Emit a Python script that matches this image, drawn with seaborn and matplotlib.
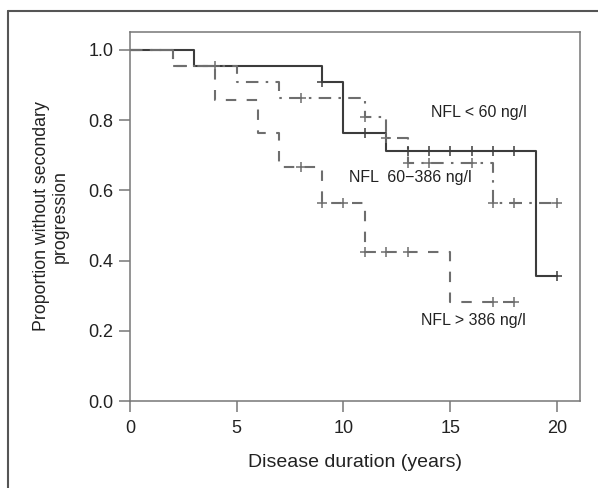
import matplotlib
matplotlib.use("Agg")
import matplotlib.pyplot as plt
import matplotlib.lines as mlines
import pandas as pd
import seaborn as sns

# Kaplan-Meier step data
low_t = [0, 3, 9, 10, 12, 19, 20]
low_s = [1.0, 0.955, 0.909, 0.764, 0.713, 0.357, 0.357]
low_ct = [9, 11, 13, 14, 15, 16, 17, 18, 20]
low_cs = [0.909, 0.764, 0.713, 0.713, 0.713, 0.713, 0.713, 0.713, 0.357]

mid_t = [0, 2, 5, 7, 11, 12, 13, 17, 20]
mid_s = [1.0, 0.955, 0.909, 0.863, 0.809, 0.749, 0.678, 0.565, 0.565]
mid_ct = [4, 8, 11, 12, 13, 14, 16, 17, 18, 20]
mid_cs = [0.955, 0.863, 0.809, 0.749, 0.678, 0.678, 0.678, 0.565, 0.565, 0.565]

high_t = [0, 2, 4, 6, 7, 9, 11, 15, 18]
high_s = [1.0, 0.955, 0.857, 0.762, 0.667, 0.564, 0.424, 0.283, 0.283]
high_ct = [8, 9, 10, 11, 12, 13, 17, 18]
high_cs = [0.667, 0.564, 0.564, 0.424, 0.424, 0.424, 0.283, 0.283]

labels = ["NFL < 60 ng/l", "NFL  60\u2212386 ng/l", "NFL > 386 ng/l"]
label_pos = [(16.35, 0.822), (13.15, 0.637), (16.1, 0.228)]
x_ticks = [0, 5, 10, 15, 20]
y_ticks = [0.0, 0.2, 0.4, 0.6, 0.8, 1.0]

sns.set_style("white")
plt.rcParams["font.family"] = ["Liberation Sans", "DejaVu Sans"]

fig = plt.figure(figsize=(5.98, 4.88), dpi=100)
ax = fig.add_axes([130 / 598, 1 - 401 / 488, 450 / 598, 369 / 488])

groups = [
    (low_t, low_s, low_ct, low_cs, "#3c3c3c", "-"),
    (mid_t, mid_s, mid_ct, mid_cs, "#6e6e6e", (0, (6, 3.5, 1.2, 3.5))),
    (high_t, high_s, high_ct, high_cs, "#6e6e6e", (0, (5, 5))),
]
for t, s, ct, cs, col, ls in groups:
    df = pd.DataFrame({"time": t, "surv": s})
    sns.lineplot(data=df, x="time", y="surv", ax=ax, color=col, linestyle=ls,
                 linewidth=1.5, drawstyle="steps-post", estimator=None, sort=False)
    cdf = pd.DataFrame({"time": ct, "surv": cs})
    sns.scatterplot(data=cdf, x="time", y="surv", ax=ax, marker="+", color=col,
                    s=45, linewidth=1.1, zorder=3)

for txt, (x, y) in zip(labels, label_pos):
    ax.text(x, y, txt, ha="center", va="center", fontsize=11.5, color="#222222")

ax.set_xlim(0, 21.08)
ax.set_ylim(0, 1.051)
ax.set_xticks(x_ticks)
ax.set_yticks(y_ticks)
ax.set_yticklabels([f"{v:.1f}" for v in y_ticks])
ax.tick_params(axis="both", direction="out", length=8, width=1.1, color="#777777",
               labelsize=13, labelcolor="#222222", left=True, bottom=True)
ax.tick_params(axis="x", pad=6)
ax.tick_params(axis="y", pad=4)
for sp in ax.spines.values():
    sp.set_color("#777777")
    sp.set_linewidth(1.1)
ax.set_xlabel("Disease duration (years)", fontsize=14, color="#222222", labelpad=12)
ax.set_ylabel("Proportion without secondary\nprogression", fontsize=12.8,
              color="#222222", labelpad=14, linespacing=1.15)

# partial outer frame (left and top edges)
fig.add_artist(mlines.Line2D([8 / 598, 8 / 598], [0, 1 - 11 / 488],
                             transform=fig.transFigure, color="#555555", lw=1.5))
fig.add_artist(mlines.Line2D([8 / 598, 1], [1 - 11 / 488, 1 - 11 / 488],
                             transform=fig.transFigure, color="#555555", lw=1.5))

fig.savefig("out.png", dpi=100)
